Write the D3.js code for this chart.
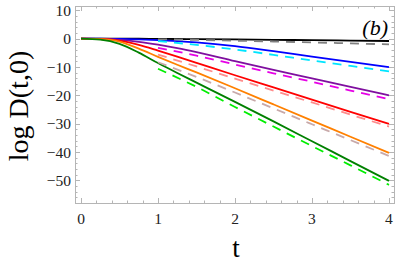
<!DOCTYPE html>
<html>
<head>
<meta charset="utf-8">
<script src="https://cdn.jsdelivr.net/npm/d3@7"></script>
<style>
  body { margin: 0; background: #fff; }
  svg { display: block; }
</style>
</head>
<body>
<script>
var width = 399,
    height = 269

// solid curves, sampled at tSolid
var tSolid = [0, 0.25, 0.5, 0.75, 1, 1.25, 1.5, 2, 2.5, 3, 3.5, 4]
var black  = [0, 0, 0, 0, -0.05, -0.1, -0.15, -0.25, -0.4, -0.5, -0.65, -0.8]
var blue   = [0, -0.01, -0.08, -0.25, -0.5, -0.85, -1.3, -2.6, -4.4, -6.3, -8.15, -10.0]
var purple = [0, -0.05, -0.4, -1.1, -2.1, -3.3, -4.7, -7.9, -11.0, -14.0, -17.0, -20.0]
var red    = [0, -0.1, -0.7, -2.2, -4.2, -6.3, -8.5, -12.9, -17.2, -21.5, -25.8, -30.1]
var orange = [0, -0.15, -1.0, -3.5, -6.4, -9.2, -11.9, -17.5, -23.2, -28.9, -34.6, -40.3]
var green  = [0, -0.35, -1.8, -4.9, -8.6, -12.1, -15.5, -22.3, -29.2, -36.2, -43.2, -50.2]

// dashed curves, sampled at tDash
var tDash   = [1, 1.5, 2, 2.5, 3, 3.5, 4]
var gray    = [-0.2, -0.4, -0.7, -1.0, -1.3, -1.65, -2.0]
var cyan    = [-0.8, -2.2, -3.8, -5.7, -7.7, -9.6, -11.5]
var magenta = [-3.2, -6.0, -9.1, -12.2, -15.2, -18.3, -21.3]
var pink    = [-5.6, -9.8, -14.1, -18.3, -22.5, -26.8, -31.0]
var rosy    = [-8.3, -13.5, -19.0, -24.6, -30.2, -35.8, -41.4]
var lime    = [-10.6, -17.0, -24.1, -31.0, -37.9, -44.7, -51.6]

var xTicks = [0, 1, 2, 3, 4]
var yTicks = [10, 0, -10, -20, -30, -40, -50]

var solids = [
  {v: black, color: '#000000'},
  {v: blue, color: '#0000ff'},
  {v: purple, color: '#7f0f9f'},
  {v: red, color: '#ff0000'},
  {v: orange, color: '#ff8000'},
  {v: green, color: '#008000'}
]
var dashes = [
  {v: gray, color: '#808080'},
  {v: cyan, color: '#00e5ff'},
  {v: magenta, color: '#e600e6'},
  {v: pink, color: '#ff8c8c'},
  {v: rosy, color: '#c8a9a9'},
  {v: lime, color: '#00ee00'}
]

// plot frame in pixels (window.top is reserved, so prefix the names)
var fLeft = 75, fRight = 394, fTop = 6, fBottom = 203

var x = d3.scaleLinear().domain([-0.078, 4.065]).range([fLeft, fRight])
var y = d3.scaleLinear().domain([-58.0, 11.55]).range([fBottom, fTop])

var svg = d3.select('body').append('svg')
    .attr('width', width)
    .attr('height', height)

var serif = '"Liberation Serif", "DejaVu Serif", serif'
var frameColor = '#b5b5b5'

// frame
svg.append('rect')
    .attr('x', fLeft + 0.5).attr('y', fTop + 0.5)
    .attr('width', fRight - fLeft).attr('height', fBottom - fTop)
    .attr('fill', 'none')
    .attr('stroke', frameColor)
    .attr('stroke-width', 1)

// ticks (inward, all four sides)
var ticks = svg.append('g').attr('stroke', frameColor).attr('stroke-width', 1)

d3.range(0, 4.001, 0.2).forEach(function(t) {
  var major = Math.abs(t - Math.round(t)) < 1e-6
  var len = major ? 5 : 2.5
  var px = Math.round(x(t)) + 0.5
  ticks.append('line').attr('x1', px).attr('x2', px).attr('y1', fBottom).attr('y2', fBottom - len)
  ticks.append('line').attr('x1', px).attr('x2', px).attr('y1', fTop).attr('y2', fTop + len)
})

d3.range(-56, 10.001, 2).forEach(function(v) {
  var major = v % 10 == 0
  var len = major ? 5 : 2.5
  var py = Math.round(y(v)) + 0.5
  ticks.append('line').attr('y1', py).attr('y2', py).attr('x1', fLeft).attr('x2', fLeft + len)
  ticks.append('line').attr('y1', py).attr('y2', py).attr('x1', fRight).attr('x2', fRight - len)
})

// tick labels
svg.append('g').selectAll('text').data(xTicks).join('text')
    .attr('x', function(d) { return x(d) })
    .attr('y', 224)
    .attr('text-anchor', 'middle')
    .style('font-family', serif)
    .style('font-size', '15.5px')
    .attr('fill', '#222')
    .text(function(d) { return d })

svg.append('g').selectAll('text').data(yTicks).join('text')
    .attr('x', 71)
    .attr('y', function(d) { return y(d) + 5.5 })
    .attr('text-anchor', 'end')
    .style('font-family', serif)
    .style('font-size', '15.5px')
    .attr('fill', '#222')
    .text(function(d) { return d < 0 ? '\u2212' + (-d) : d })

// curves
var line = d3.line()
    .x(function(d) { return x(d[0]) })
    .y(function(d) { return y(d[1]) })
    .curve(d3.curveMonotoneX)

svg.append('g').selectAll('path').data(solids).join('path')
    .attr('d', function(s) { return line(tSolid.map(function(t, i) { return [t, s.v[i]] })) })
    .attr('fill', 'none')
    .attr('stroke', function(s) { return s.color })
    .attr('stroke-width', 1.8)

svg.append('g').selectAll('path').data(dashes).join('path')
    .attr('d', function(s) { return line(tDash.map(function(t, i) { return [t, s.v[i]] })) })
    .attr('fill', 'none')
    .attr('stroke', function(s) { return s.color })
    .attr('stroke-width', 1.8)
    .attr('stroke-dasharray', '9,7')

// panel label
svg.append('text')
    .attr('x', 388).attr('y', 35)
    .attr('text-anchor', 'end')
    .style('font-family', serif)
    .style('font-style', 'italic')
    .style('font-size', '22px')
    .text('(b)')

// axis labels
svg.append('text')
    .attr('transform', 'translate(28,106) rotate(-90)')
    .attr('text-anchor', 'middle')
    .style('font-family', serif)
    .style('font-size', '28px')
    .text('log D(t,0)')

svg.append('text')
    .attr('x', 236).attr('y', 257)
    .attr('text-anchor', 'middle')
    .style('font-family', serif)
    .style('font-size', '27px')
    .text('t')
</script>
</body>
</html>
